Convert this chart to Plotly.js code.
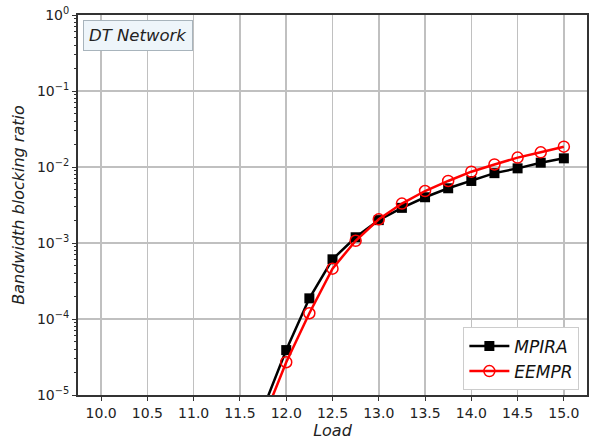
<!DOCTYPE html>
<html>
<head>
<meta charset="utf-8">
<script src="https://cdn.plot.ly/plotly-3.0.1.min.js"></script>
<style>html,body{margin:0;padding:0;background:#fff;}#chart{width:589px;height:446px;}</style>
</head>
<body>
<div id="chart"></div>
<script>
const loads = [11.75, 12.0, 12.25, 12.5, 12.75, 13.0, 13.25, 13.5, 13.75, 14.0, 14.25, 14.5, 14.75, 15.0];
const mpira = [6.6e-6, 3.9e-5, 1.87e-4, 6.1e-4, 1.19e-3, 2.0e-3, 2.9e-3, 4.0e-3, 5.25e-3, 6.55e-3, 8.3e-3, 9.6e-3, 1.14e-2, 1.3e-2];
const eempr = [4.7e-6, 2.7e-5, 1.19e-4, 4.6e-4, 1.07e-3, 2.05e-3, 3.3e-3, 4.83e-3, 6.55e-3, 8.67e-3, 1.08e-2, 1.33e-2, 1.56e-2, 1.85e-2];
const xTicks = [10.0, 10.5, 11.0, 11.5, 12.0, 12.5, 13.0, 13.5, 14.0, 14.5, 15.0];
const yExps = [-5, -4, -3, -2, -1, 0];

const yTickVals = yExps.map(e => Math.pow(10, e));
const yTickText = yExps.map(e => '10<sup>' + (e < 0 ? '\u2212' + (-e) : e) + '</sup>');
const minorVals = [];
for (let e = -5; e < 0; e++) for (let k = 2; k <= 9; k++) minorVals.push(k * Math.pow(10, e));

const font = 'DejaVu Sans, sans-serif';
const traces = [
  {x: loads, y: mpira, name: '<i>MPIRA</i>', mode: 'lines+markers',
   line: {color: '#000000', width: 2.5},
   marker: {symbol: 'square', size: 10, color: '#000000'}},
  {x: loads, y: eempr, name: '<i>EEMPR</i>', mode: 'lines+markers',
   line: {color: '#ff0000', width: 2.5},
   marker: {symbol: 'circle-open', size: 11, color: '#ff0000', line: {width: 1.5}}}
];
const layout = {
  width: 589, height: 446,
  margin: {l: 78, r: 2, t: 15, b: 51},
  paper_bgcolor: '#ffffff', plot_bgcolor: '#ffffff',
  font: {family: font, size: 14, color: '#222'},
  showlegend: true,
  xaxis: {
    range: [9.75, 15.25], tickvals: xTicks, ticktext: xTicks.map(v => v.toFixed(1)),
    showgrid: true, gridcolor: '#c0c0c0', gridwidth: 1.5,
    showline: true, linecolor: '#333', linewidth: 2, mirror: true,
    ticks: 'outside', ticklen: 4, tickcolor: '#333', zeroline: false,
    tickfont: {family: font, size: 14, color: '#222'},
    title: {text: '<i>Load</i>', font: {family: font, size: 16, color: '#222'}, standoff: 4}
  },
  yaxis: {
    type: 'log', range: [-5, 0], tickvals: yTickVals, ticktext: yTickText,
    showgrid: true, gridcolor: '#c0c0c0', gridwidth: 1.5,
    showline: true, linecolor: '#333', linewidth: 2, mirror: true,
    ticks: 'outside', ticklen: 4, tickcolor: '#333', zeroline: false,
    tickfont: {family: font, size: 14, color: '#222'},
    minor: {tickvals: minorVals, ticks: 'outside', ticklen: 2, tickcolor: '#333', showgrid: false},
    title: {text: '<i>Bandwidth blocking ratio</i>', font: {family: font, size: 16, color: '#222'}, standoff: 8}
  },
  legend: {
    x: 0.985, y: 0.012, xanchor: 'right', yanchor: 'bottom',
    bgcolor: '#ffffff', bordercolor: '#cccccc', borderwidth: 1,
    font: {family: font, size: 17, color: '#111'}, itemwidth: 40, tracegroupgap: 2
  },
  annotations: [{
    xref: 'paper', yref: 'paper', x: 0.01, y: 0.988, xanchor: 'left', yanchor: 'top',
    text: '<i>DT Network</i>', showarrow: false,
    font: {family: font, size: 16.5, color: '#222'},
    bgcolor: '#eef5fa', bordercolor: '#a8b4bc', borderwidth: 1, borderpad: 5
  }]
};
Plotly.newPlot('chart', traces, layout, {staticPlot: true});
</script>
</body>
</html>
